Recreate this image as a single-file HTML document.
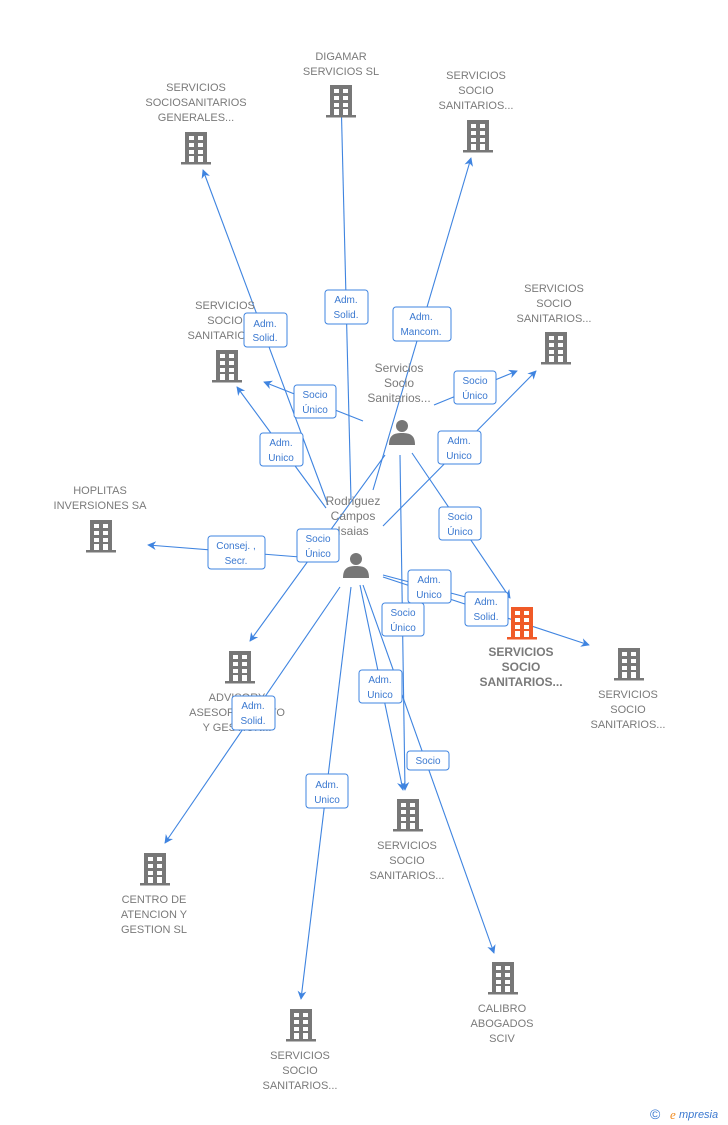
<!DOCTYPE html>
<html><head><meta charset="utf-8"><style>
html,body{margin:0;padding:0;background:#fff;}
svg{display:block;font-family:"Liberation Sans",Arial,sans-serif;}
.n{font-size:11px;fill:#7a7a7a;text-anchor:middle;}
.nb{font-size:12px;fill:#7a7a7a;text-anchor:middle;font-weight:bold;}
.p{font-size:12px;fill:#7a7a7a;text-anchor:middle;}
.e{stroke:#3f84e0;stroke-width:1.1;fill:none;}
.lb rect{fill:#fff;stroke:#3f84e0;stroke-width:1;}
.lb text{font-size:10px;fill:#3a78d0;text-anchor:middle;}
</style></head><body>
<svg width="728" height="1125" viewBox="0 0 728 1125" xmlns="http://www.w3.org/2000/svg">
<defs>
<marker id="a" viewBox="0 0 10 10" refX="9" refY="5" markerWidth="8" markerHeight="8" orient="auto-start-reverse"><path d="M0,0 L10,5 L0,10 L3,5 z" fill="#3f84e0"/></marker>
<g id="b">
<rect x="-11" y="-16" width="22" height="30" fill="#777"/>
<rect x="-15" y="14" width="30" height="2.5" fill="#777"/>
<g fill="#fff">
<rect x="-7" y="-12" width="5" height="4"/><rect x="2" y="-12" width="5" height="4"/>
<rect x="-7" y="-5" width="5" height="4"/><rect x="2" y="-5" width="5" height="4"/>
<rect x="-7" y="2" width="5" height="4"/><rect x="2" y="2" width="5" height="4"/>
<rect x="-7" y="8" width="5" height="6"/><rect x="2" y="8" width="5" height="6"/>
</g>
</g>
<g id="pp" fill="#777">
<circle cx="0" cy="-6" r="6"/>
<path d="M-13,13 C-13,3 -8,1 0,1 C8,1 13,3 13,13 Z"/>
</g>
</defs>

<!-- edges -->
<path class="e" d="M328,505 L203,170" marker-end="url(#a)"/>
<path class="e" d="M351,500 L341,95" marker-end="url(#a)"/>
<path class="e" d="M373,490 L471,158" marker-end="url(#a)"/>
<path class="e" d="M326,508 L237,387" marker-end="url(#a)"/>
<path class="e" d="M363,421 L264,382" marker-end="url(#a)"/>
<path class="e" d="M434,405 L517,371" marker-end="url(#a)"/>
<path class="e" d="M383,526 L536,371" marker-end="url(#a)"/>
<path class="e" d="M412,453 L510,598" marker-end="url(#a)"/>
<path class="e" d="M338,560 L148,545" marker-end="url(#a)"/>
<path class="e" d="M385,455 L250,641" marker-end="url(#a)"/>
<path class="e" d="M383,575 L477,600" marker-end="url(#a)"/>
<path class="e" d="M383,577 L589,645" marker-end="url(#a)"/>
<path class="e" d="M400,455 L405,790" marker-end="url(#a)"/>
<path class="e" d="M360,585 L403,790" marker-end="url(#a)"/>
<path class="e" d="M363,585 L494,953" marker-end="url(#a)"/>
<path class="e" d="M340,587 L165,843" marker-end="url(#a)"/>
<path class="e" d="M351,587 L301,999" marker-end="url(#a)"/>

<!-- nodes -->
<text class="n" x="196" y="91">SERVICIOS</text><text class="n" x="196" y="106">SOCIOSANITARIOS</text><text class="n" x="196" y="121">GENERALES...</text>
<use href="#b" x="196" y="148"/>
<text class="n" x="341" y="60">DIGAMAR</text><text class="n" x="341" y="75">SERVICIOS SL</text>
<use href="#b" x="341" y="101"/>
<text class="n" x="476" y="79">SERVICIOS</text><text class="n" x="476" y="94">SOCIO</text><text class="n" x="476" y="109">SANITARIOS...</text>
<use href="#b" x="478" y="136"/>
<text class="n" x="554" y="292">SERVICIOS</text><text class="n" x="554" y="307">SOCIO</text><text class="n" x="554" y="322">SANITARIOS...</text>
<use href="#b" x="556" y="348"/>
<text class="n" x="225" y="309">SERVICIOS</text><text class="n" x="225" y="324">SOCIO</text><text class="n" x="225" y="339">SANITARIOS...</text>
<use href="#b" x="227" y="366"/>
<text class="n" x="100" y="494">HOPLITAS</text><text class="n" x="100" y="509">INVERSIONES SA</text>
<use href="#b" x="101" y="536"/>
<use href="#b" x="240" y="667"/>
<text class="n" x="237" y="701">ADVISORY</text><text class="n" x="237" y="716">ASESORAMIENTO</text><text class="n" x="237" y="731">Y GESTION...</text>
<g transform="translate(522,623)"><rect x="-11" y="-16" width="22" height="30" fill="#f05a28"/><rect x="-15" y="14" width="30" height="2.5" fill="#f05a28"/><g fill="#fff"><rect x="-7" y="-12" width="5" height="4"/><rect x="2" y="-12" width="5" height="4"/><rect x="-7" y="-5" width="5" height="4"/><rect x="2" y="-5" width="5" height="4"/><rect x="-7" y="2" width="5" height="4"/><rect x="2" y="2" width="5" height="4"/><rect x="-7" y="8" width="5" height="6"/><rect x="2" y="8" width="5" height="6"/></g></g>
<text class="nb" x="521" y="656">SERVICIOS</text><text class="nb" x="521" y="671">SOCIO</text><text class="nb" x="521" y="686">SANITARIOS...</text>
<use href="#b" x="629" y="664"/>
<text class="n" x="628" y="698">SERVICIOS</text><text class="n" x="628" y="713">SOCIO</text><text class="n" x="628" y="728">SANITARIOS...</text>
<use href="#b" x="408" y="815"/>
<text class="n" x="407" y="849">SERVICIOS</text><text class="n" x="407" y="864">SOCIO</text><text class="n" x="407" y="879">SANITARIOS...</text>
<use href="#b" x="155" y="869"/>
<text class="n" x="154" y="903">CENTRO DE</text><text class="n" x="154" y="918">ATENCION Y</text><text class="n" x="154" y="933">GESTION SL</text>
<use href="#b" x="503" y="978"/>
<text class="n" x="502" y="1012">CALIBRO</text><text class="n" x="502" y="1027">ABOGADOS</text><text class="n" x="502" y="1042">SCIV</text>
<use href="#b" x="301" y="1025"/>
<text class="n" x="300" y="1059">SERVICIOS</text><text class="n" x="300" y="1074">SOCIO</text><text class="n" x="300" y="1089">SANITARIOS...</text>

<text class="p" x="399" y="372">Servicios</text><text class="p" x="399" y="387">Socio</text><text class="p" x="399" y="402">Sanitarios...</text>
<use href="#pp" x="402" y="432"/>
<text class="p" x="353" y="505">Rodriguez</text><text class="p" x="353" y="520">Campos</text><text class="p" x="353" y="535">Isaias</text>
<use href="#pp" x="356" y="565"/>

<!-- labels -->
<g class="lb">
<rect x="244" y="313" width="43" height="34" rx="3"/><text x="265" y="327">Adm.</text><text x="265" y="341">Solid.</text>
<rect x="325" y="290" width="43" height="34" rx="3"/><text x="346" y="303">Adm.</text><text x="346" y="318">Solid.</text>
<rect x="393" y="307" width="58" height="34" rx="3"/><text x="421" y="320">Adm.</text><text x="421" y="335">Mancom.</text>
<rect x="294" y="385" width="42" height="33" rx="3"/><text x="315" y="398">Socio</text><text x="315" y="413">Único</text>
<rect x="260" y="433" width="43" height="33" rx="3"/><text x="281" y="446">Adm.</text><text x="281" y="461">Unico</text>
<rect x="454" y="371" width="42" height="33" rx="3"/><text x="475" y="384">Socio</text><text x="475" y="399">Único</text>
<rect x="438" y="431" width="43" height="33" rx="3"/><text x="459" y="444">Adm.</text><text x="459" y="459">Unico</text>
<rect x="439" y="507" width="42" height="33" rx="3"/><text x="460" y="520">Socio</text><text x="460" y="535">Único</text>
<rect x="208" y="536" width="57" height="33" rx="3"/><text x="236" y="549">Consej. ,</text><text x="236" y="564">Secr.</text>
<rect x="297" y="529" width="42" height="33" rx="3"/><text x="318" y="542">Socio</text><text x="318" y="557">Único</text>
<rect x="408" y="570" width="43" height="33" rx="3"/><text x="429" y="583">Adm.</text><text x="429" y="598">Unico</text>
<rect x="465" y="592" width="43" height="34" rx="3"/><text x="486" y="605">Adm.</text><text x="486" y="620">Solid.</text>
<rect x="382" y="603" width="42" height="33" rx="3"/><text x="403" y="616">Socio</text><text x="403" y="631">Único</text>
<rect x="359" y="670" width="43" height="33" rx="3"/><text x="380" y="683">Adm.</text><text x="380" y="698">Unico</text>
<rect x="232" y="696" width="43" height="34" rx="3"/><text x="253" y="709">Adm.</text><text x="253" y="724">Solid.</text>
<rect x="407" y="751" width="42" height="19" rx="3"/><text x="428" y="764">Socio</text>
<rect x="306" y="774" width="42" height="34" rx="3"/><text x="327" y="788">Adm.</text><text x="327" y="803">Unico</text>
</g>

<text x="650" y="1119" font-size="14" fill="#3a78d0">©</text>
<text x="670" y="1119" font-size="13" fill="#f08a1e" font-style="italic" font-family="Liberation Serif,serif">e</text>
<text x="679" y="1118" font-size="11" fill="#3a78d0" font-style="italic">mpresia</text>
</svg>
</body></html>
